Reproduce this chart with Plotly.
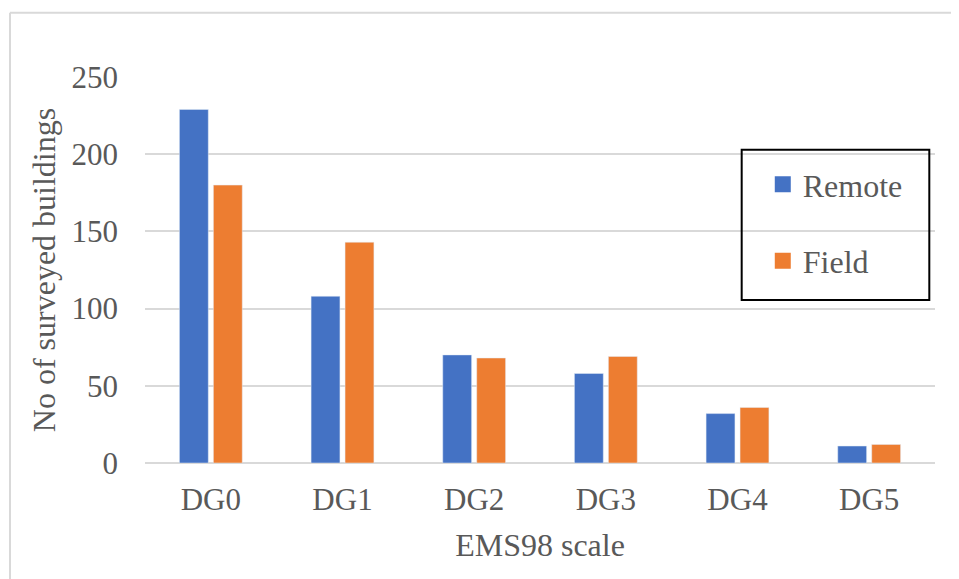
import plotly.graph_objects as go

# Damage grades (EMS98) and building counts
categories = ["DG0", "DG1", "DG2", "DG3", "DG4", "DG5"]
remote = [229, 108, 70, 58, 32, 11]
field = [180, 143, 68, 69, 36, 12]
y_ticks = [0, 50, 100, 150, 200, 250]

font_family = "Liberation Serif, Times New Roman, serif"
text_color = "#595959"
grid_color = "#D9D9D9"
colors = {"Remote": "#4472C4", "Field": "#ED7D31"}

fig = go.Figure()
fig.add_trace(go.Bar(x=categories, y=remote, name="Remote",
                     marker_color=colors["Remote"], showlegend=False))
fig.add_trace(go.Bar(x=categories, y=field, name="Field",
                     marker_color=colors["Field"], showlegend=False))

# legend-only entries so the swatches come out as larger squares
for name, group in [("Remote", "r"), ("Field", "f")]:
    fig.add_trace(go.Scatter(
        x=[None], y=[None], mode="markers", name=name, legendgroup=group,
        marker=dict(symbol="square", size=16, color=colors[name]),
    ))

# page body has an 8px margin, so size the figure to fit the window
fig.update_layout(
    width=951, height=571,
    margin=dict(l=137, r=24, t=69, b=116),
    paper_bgcolor="white", plot_bgcolor="white",
    font=dict(family=font_family, size=31, color=text_color),
    barmode="group", bargap=0.484, bargroupgap=0.15,
    showlegend=True,
    legend=dict(
        x=0.782, y=0.793, xanchor="left", yanchor="top",
        bgcolor="rgba(0,0,0,0)", borderwidth=0,
        traceorder="grouped", tracegroupgap=32, itemsizing="trace",
        font=dict(size=32, color=text_color),
    ),
    shapes=[
        # legend frame
        dict(type="rect", xref="paper", yref="paper",
             x0=0.7553, x1=0.9928, y0=0.8115, y1=0.4226,
             line=dict(color="black", width=2), fillcolor="rgba(0,0,0,0)"),
        # chart-area border (left and top edges visible)
        dict(type="line", xref="paper", yref="paper",
             x0=-0.1709, x1=-0.1709, y0=1.1667, y1=-0.4,
             line=dict(color=grid_color, width=2)),
        dict(type="line", xref="paper", yref="paper",
             x0=-0.1709, x1=1.1, y0=1.1667, y1=1.1667,
             line=dict(color=grid_color, width=2)),
    ],
)

fig.update_xaxes(
    title=dict(text="EMS98 scale", font=dict(size=32), standoff=17),
    showgrid=False, showline=False, ticks="",
    ticklabelstandoff=15,
    tickfont=dict(size=31),
)
fig.update_yaxes(
    title=dict(text="No of surveyed buildings", font=dict(size=32), standoff=6),
    range=[0, 250], tickvals=y_ticks,
    showgrid=True, gridcolor=grid_color, gridwidth=2,
    zeroline=True, zerolinecolor=grid_color, zerolinewidth=2,
    showline=False, ticks="", ticklabelstandoff=26,
    tickfont=dict(size=31),
)

fig.write_html("out.html")
